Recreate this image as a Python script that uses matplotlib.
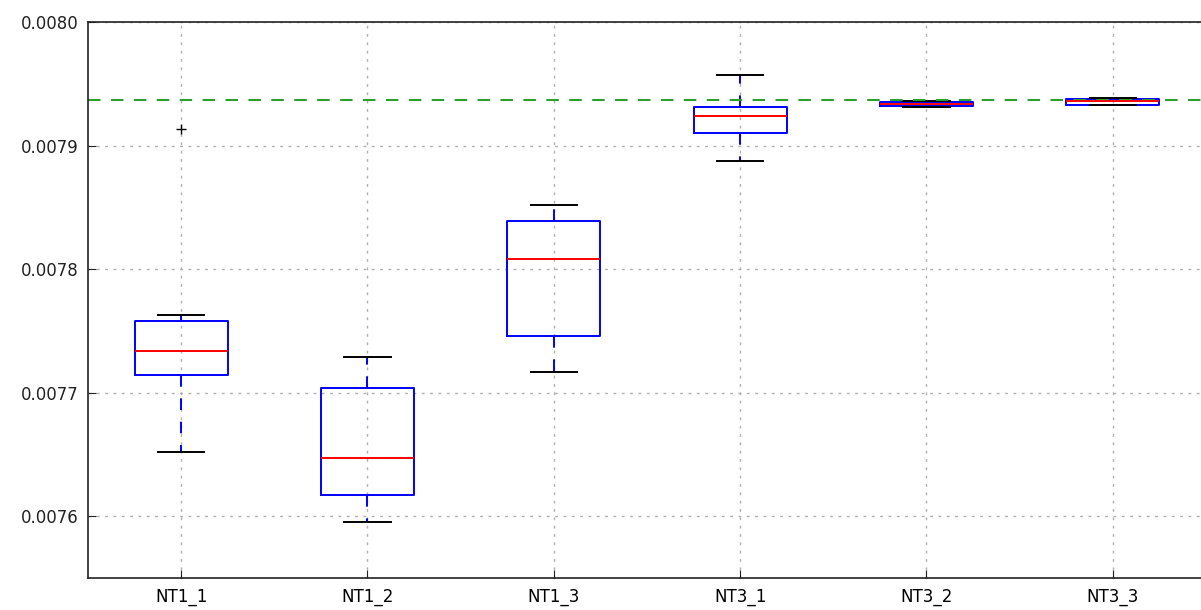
import matplotlib
matplotlib.use('Agg')
import matplotlib.pyplot as plt

# box statistics
labels = ['NT1_1', 'NT1_2', 'NT1_3', 'NT3_1', 'NT3_2', 'NT3_3']
whislo = [0.0076517, 0.0075952, 0.0077164, 0.0078877, 0.0079313, 0.0079329]
q1 = [0.0077147, 0.0076170, 0.0077455, 0.0079103, 0.0079321, 0.0079329]
med = [0.0077341, 0.0076469, 0.0078085, 0.0079240, 0.0079337, 0.0079358]
q3 = [0.0077584, 0.0077034, 0.0078392, 0.0079313, 0.0079350, 0.0079378]
whishi = [0.0077632, 0.0077285, 0.0078521, 0.0079572, 0.0079362, 0.0079388]
fliers = [[0.0079135], [], [], [], [], []]
reference = 0.0079370

stats = []
for i, lab in enumerate(labels):
    stats.append(dict(label=lab, whislo=whislo[i], q1=q1[i], med=med[i],
                      q3=q3[i], whishi=whishi[i], fliers=fliers[i]))

fig = plt.figure(figsize=(12.01, 6.10), dpi=100)
ax = fig.add_axes([88/1201, 32/610, 1118/1201, 556/610])

ax.bxp(stats, widths=0.5, capwidths=0.25,
       boxprops=dict(color='blue', linewidth=1.4),
       whiskerprops=dict(color='blue', linestyle=(0, (6, 6)), linewidth=1.4),
       capprops=dict(color='black', linewidth=1.4),
       medianprops=dict(color='red', linewidth=1.4),
       flierprops=dict(marker='+', markeredgecolor='black', markersize=7,
                       linestyle='none'))

ax.axhline(reference, color='#2ca02c', linestyle='--', dashes=(6, 5), linewidth=1.5)

ax.set_xlim(0.5, 6.5)
ax.set_ylim(0.00755, 0.0080)
ax.set_yticks([0.0076, 0.0077, 0.0078, 0.0079, 0.0080])
ax.set_yticklabels(['0.0076', '0.0077', '0.0078', '0.0079', '0.0080'])
ax.grid(True, color='#b0b0b0', linestyle=(0, (2, 4)), linewidth=1)
ax.set_axisbelow(True)
ax.tick_params(direction='in', length=6, labelsize=12, colors='#222222', pad=7)
ax.tick_params(axis='x', labelcolor='black')
for s in ax.spines.values():
    s.set_linewidth(1.2)
    s.set_color('#222222')

fig.savefig('out.png', dpi=100)
